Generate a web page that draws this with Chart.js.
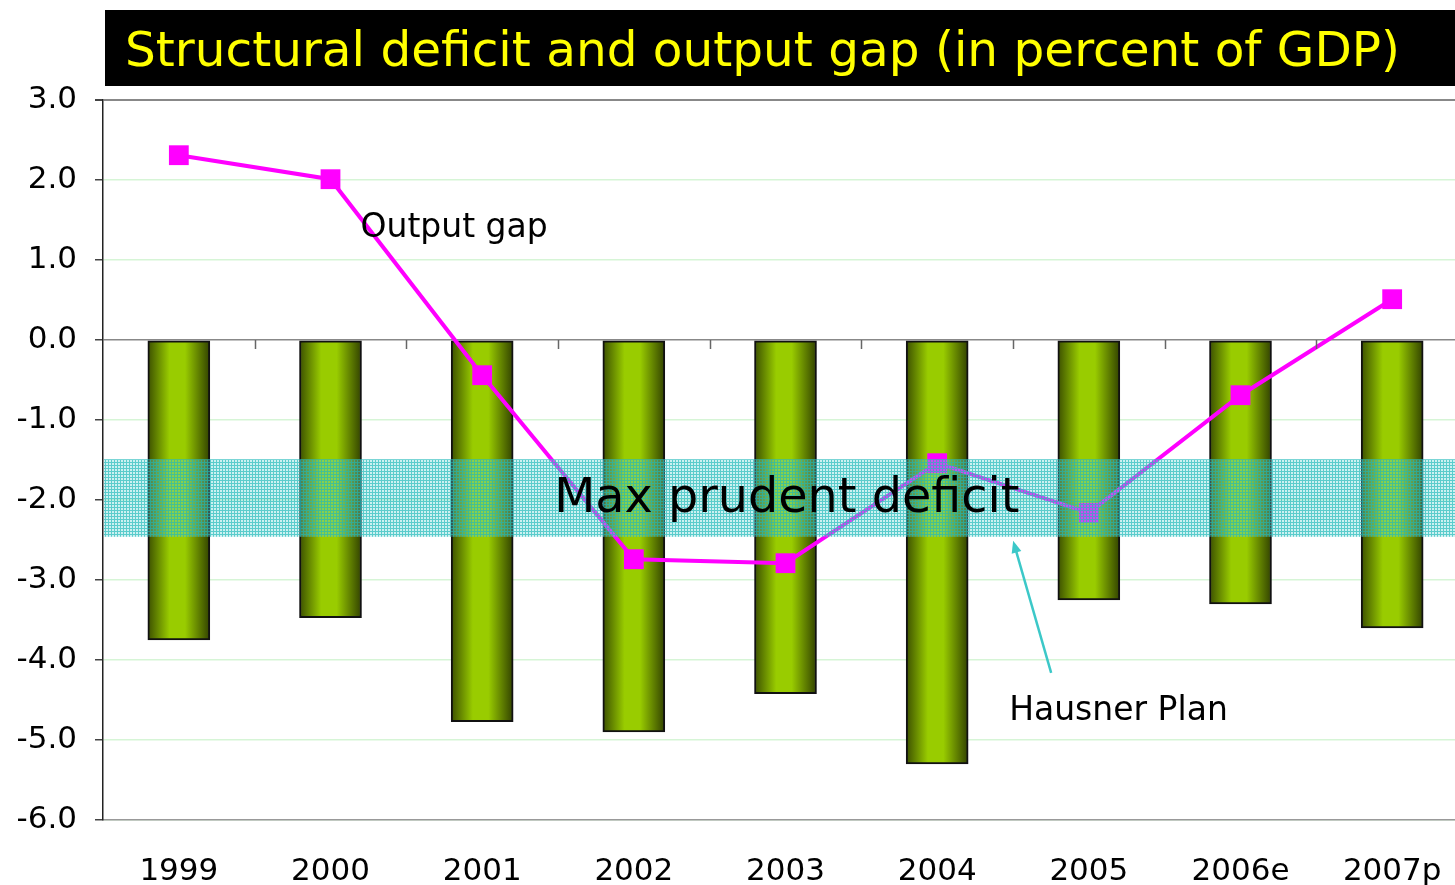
<!DOCTYPE html>
<html>
<head>
<meta charset="utf-8">
<script src="https://cdn.jsdelivr.net/npm/chart.js@4/dist/chart.umd.min.js"></script>
<style>
  html, body { margin: 0; padding: 0; background: #fff; overflow: hidden; }
  #chart { display: block; }
</style>
</head>
<body>
<canvas id="chart" width="1482" height="885"></canvas>
<script>
"use strict";

var years = ['1999', '2000', '2001', '2002', '2003', '2004', '2005', '2006e', '2007p'];
var structuralDeficit = [-3.75, -3.47, -4.77, -4.9, -4.42, -5.3, -3.25, -3.3, -3.6];
var outputGap = [2.31, 2.01, -0.44, -2.74, -2.79, -1.54, -2.16, -0.69, 0.51];
var prudentBand = [-1.49, -2.46];
var yRange = [-6, 3];

var TITLE = 'Structural deficit and output gap (in percent of GDP)';
var FONT = '"DejaVu Sans", Verdana, sans-serif';
var BAR_W = 62;

(function () {
  var barFill, hatch, overlay, makeHatch;

  // horizontal dark-bright-dark shading on each bar, like the old Excel cylinder fill
  barFill = function (context) {
    var chart, g, x;
    chart = context.chart;
    if (!chart.chartArea || context.dataIndex == null) {
      return '#99cc00';
    }
    x = chart.scales.x.getPixelForValue(context.dataIndex);
    g = chart.ctx.createLinearGradient(x - BAR_W / 2, 0, x + BAR_W / 2, 0);
    g.addColorStop(0, '#3c5000');
    g.addColorStop(0.35, '#99cc00');
    g.addColorStop(0.6, '#99cc00');
    g.addColorStop(1, '#324200');
    return g;
  };

  makeHatch = function (ctx) {
    var c, p;
    if (hatch) {
      return hatch;
    }
    c = document.createElement('canvas');
    c.width = 3;
    c.height = 3;
    p = c.getContext('2d');
    p.fillStyle = 'rgba(110, 215, 215, 0.35)';
    p.fillRect(0, 0, 3, 3);
    p.fillStyle = 'rgba(30, 185, 185, 0.65)';
    p.fillRect(0, 0, 1, 3);
    p.fillRect(1, 0, 2, 1);
    hatch = ctx.createPattern(c, 'repeat');
    return hatch;
  };

  overlay = {
    id: 'overlay',
    afterDatasetsDraw: function (chart) {
      var area, ctx, top, bottom, y;
      ctx = chart.ctx;
      area = chart.chartArea;
      y = chart.scales.y;
      top = y.getPixelForValue(prudentBand[0]);
      bottom = y.getPixelForValue(prudentBand[1]);
      ctx.save();
      ctx.fillStyle = makeHatch(ctx);
      ctx.fillRect(area.left + 1, top, area.right - area.left, bottom - top);
      ctx.restore();
    },
    afterDraw: function (chart) {
      var ctx, x, y, zero, i, px, ax, ay, bx, by, ang;
      ctx = chart.ctx;
      x = chart.scales.x;
      y = chart.scales.y;
      zero = y.getPixelForValue(0);
      ctx.save();

      // category tick marks hanging under the zero line
      ctx.strokeStyle = '#666';
      ctx.lineWidth = 1.5;
      for (i = 1; i < years.length; i++) {
        px = Math.round((x.getPixelForValue(i - 1) + x.getPixelForValue(i)) / 2) + 0.5;
        ctx.beginPath();
        ctx.moveTo(px, zero);
        ctx.lineTo(px, zero + 9);
        ctx.stroke();
      }

      // title bar
      ctx.fillStyle = '#000';
      ctx.fillRect(105, 10, chart.width - 105, 76);
      ctx.fillStyle = '#ffff00';
      ctx.font = '48.5px ' + FONT;
      ctx.textBaseline = 'middle';
      ctx.textAlign = 'left';
      ctx.fillText(TITLE, 125, 53);

      // annotations
      ctx.fillStyle = '#000';
      ctx.font = '33px ' + FONT;
      ctx.fillText('Output gap', x.getPixelForValue(1) + 30, y.getPixelForValue(1.4));
      ctx.fillText('Hausner Plan', x.getPixelForValue(5) + 72, y.getPixelForValue(-4.64));
      ctx.font = '47.7px ' + FONT;
      ctx.fillText('Max prudent deficit', x.getPixelForValue(2) + 72, y.getPixelForValue(-2.0));

      // arrow from the Hausner Plan label to the band
      ax = x.getPixelForValue(5) + 114;
      ay = y.getPixelForValue(-4.16);
      bx = x.getPixelForValue(5) + 76;
      by = y.getPixelForValue(prudentBand[1]) + 4;
      ang = Math.atan2(by - ay, bx - ax);
      ctx.strokeStyle = '#3cc8c8';
      ctx.fillStyle = '#3cc8c8';
      ctx.lineWidth = 2.5;
      ctx.beginPath();
      ctx.moveTo(ax, ay);
      ctx.lineTo(bx - 6 * Math.cos(ang), by - 6 * Math.sin(ang));
      ctx.stroke();
      ctx.beginPath();
      ctx.moveTo(bx, by);
      ctx.lineTo(bx - 12 * Math.cos(ang) + 5 * Math.sin(ang), by - 12 * Math.sin(ang) - 5 * Math.cos(ang));
      ctx.lineTo(bx - 12 * Math.cos(ang) - 5 * Math.sin(ang), by - 12 * Math.sin(ang) + 5 * Math.cos(ang));
      ctx.closePath();
      ctx.fill();
      ctx.restore();
    }
  };

  new Chart(document.getElementById('chart').getContext('2d'), {
    type: 'bar',
    data: {
      labels: years,
      datasets: [{
        type: 'line',
        label: 'Output gap',
        data: outputGap,
        borderColor: '#ff00ff',
        backgroundColor: '#ff00ff',
        borderWidth: 4,
        pointStyle: 'rect',
        pointRadius: 14,
        pointBorderWidth: 0,
        pointBackgroundColor: '#ff00ff',
        tension: 0,
        order: 0
      }, {
        type: 'bar',
        label: 'Structural deficit',
        data: structuralDeficit,
        backgroundColor: barFill,
        borderColor: '#111',
        borderWidth: 2,
        borderSkipped: false,
        barThickness: BAR_W,
        order: 1
      }]
    },
    options: {
      responsive: false,
      animation: false,
      layout: {
        padding: { top: 100, right: 4, left: 0, bottom: 0 }
      },
      plugins: {
        legend: { display: false },
        tooltip: { enabled: false },
        title: { display: false }
      },
      scales: {
        x: {
          type: 'category',
          afterFit: function (scale) { scale.height = 65; },
          grid: { drawOnChartArea: false, drawTicks: false },
          border: { color: '#999', width: 1.5 },
          ticks: { color: '#000', padding: 33, font: { family: FONT, size: 31 } }
        },
        y: {
          min: yRange[0],
          max: yRange[1],
          afterFit: function (scale) { scale.width = 103; },
          border: { color: '#222', width: 1.5 },
          grid: {
            tickLength: 8,
            tickColor: '#444',
            color: function (c) {
              if (c.tick && (c.tick.value === 0 || c.tick.value === yRange[1])) {
                return '#888';
              }
              return '#d6f5d6';
            },
            lineWidth: function (c) {
              if (c.tick && c.tick.value === yRange[1]) {
                return 2;
              }
              return 1.5;
            }
          },
          ticks: {
            stepSize: 1,
            color: '#000',
            padding: 18,
            font: { family: FONT, size: 31 },
            callback: function (v) { return Number(v).toFixed(1); }
          }
        }
      }
    },
    plugins: [overlay]
  });
}).call(void 0);
</script>
</body>
</html>
